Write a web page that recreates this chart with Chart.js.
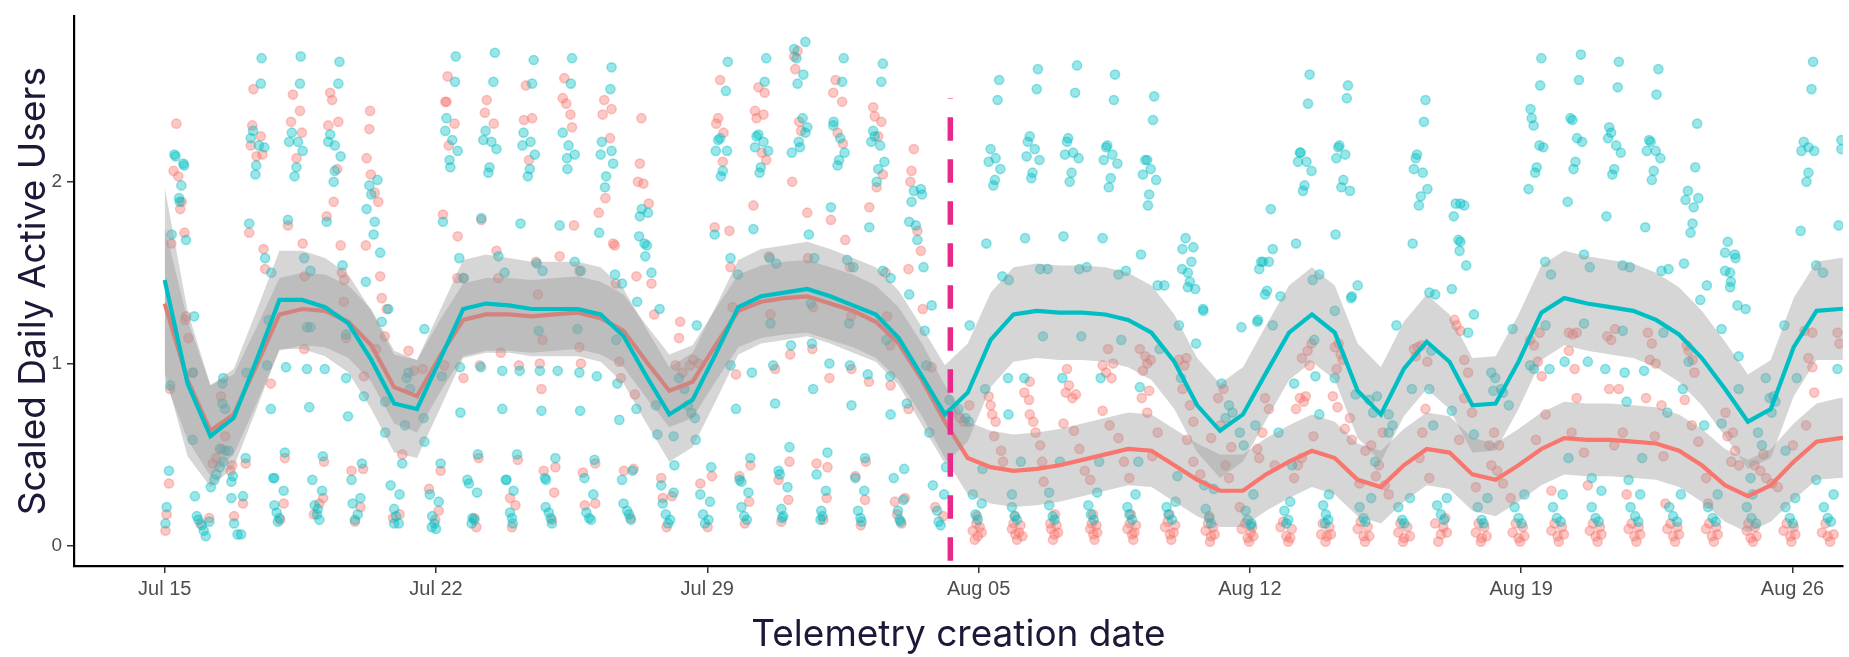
<!DOCTYPE html>
<html>
<head>
<meta charset="utf-8">
<script src="https://cdn.jsdelivr.net/npm/chart.js@4.4.1/dist/chart.umd.min.js"></script>
<style>
  html, body { margin: 0; padding: 0; background: #ffffff; }
  #wrap { width: 1849px; height: 657px; }
</style>
</head>
<body>
<div id="wrap"><canvas id="dau" width="1849" height="657"></canvas></div>
<script>
// ==========================
// DATA (days counted from Jul 15)
// ==========================
const tickDays = [0, 7, 14, 21, 28, 35, 42];
const tickLabels = ["Jul 15", "Jul 22", "Jul 29", "Aug 05", "Aug 12", "Aug 19", "Aug 26"];
const yTicks = [0, 1, 2];

// smoother evaluation grid
const fitDays = [
  0, 0.59, 1.18, 1.78, 2.37, 2.96, 3.55, 4.14, 4.74, 5.33,
  5.92, 6.51, 7.10, 7.70, 8.29, 8.88, 9.47, 10.06, 10.66, 11.25,
  11.84, 12.43, 13.02, 13.62, 14.21, 14.80, 15.39, 15.98, 16.58, 17.17,
  17.76, 18.35, 18.94, 19.54, 20.13, 20.72, 21.31, 21.90, 22.50, 23.09,
  23.68, 24.27, 24.86, 25.46, 26.05, 26.64, 27.23, 27.82, 28.42, 29.01,
  29.60, 30.19, 30.78, 31.38, 31.97, 32.56, 33.15, 33.74, 34.34, 34.93,
  35.52, 36.11, 36.70, 37.30, 37.89, 38.48, 39.07, 39.66, 40.26, 40.85,
  41.44, 42.03, 42.62, 43.22, 43.81
];
const tealFit = [
  1.46, 0.89, 0.60, 0.70, 1.02, 1.35, 1.35, 1.31, 1.22, 1.02,
  0.78, 0.75, 1.02, 1.30, 1.33, 1.32, 1.30, 1.30, 1.30, 1.27,
  1.15, 0.93, 0.72, 0.80, 1.05, 1.31, 1.37, 1.39, 1.41, 1.37,
  1.32, 1.27, 1.14, 0.93, 0.72, 0.84, 1.13, 1.27, 1.29, 1.28,
  1.28, 1.27, 1.24, 1.17, 1.01, 0.77, 0.63, 0.72, 0.95, 1.17,
  1.27, 1.17, 0.85, 0.72, 0.97, 1.12, 1.01, 0.77, 0.78, 1.01,
  1.28, 1.36, 1.33, 1.31, 1.29, 1.24, 1.16, 1.03, 0.86, 0.68,
  0.75, 1.09, 1.29, 1.30, 1.31
];
const tealHalf = [
  0.51, 0.40, 0.28, 0.27, 0.27, 0.27, 0.27, 0.27, 0.27, 0.27,
  0.27, 0.27, 0.27, 0.27, 0.27, 0.26, 0.26, 0.26, 0.26, 0.26,
  0.26, 0.26, 0.26, 0.26, 0.26, 0.26, 0.26, 0.26, 0.26, 0.26,
  0.26, 0.26, 0.26, 0.27, 0.27, 0.27, 0.26, 0.26, 0.26, 0.26,
  0.26, 0.26, 0.26, 0.26, 0.26, 0.26, 0.26, 0.26, 0.26, 0.26,
  0.26, 0.26, 0.26, 0.26, 0.26, 0.26, 0.26, 0.26, 0.26, 0.26,
  0.26, 0.26, 0.26, 0.26, 0.26, 0.26, 0.26, 0.26, 0.26, 0.26,
  0.27, 0.27, 0.27, 0.28, 0.28
];
const coralFit = [
  1.33, 0.91, 0.63, 0.72, 0.99, 1.27, 1.30, 1.29, 1.23, 1.10,
  0.87, 0.82, 1.04, 1.24, 1.27, 1.27, 1.26, 1.27, 1.28, 1.25,
  1.18, 1.01, 0.85, 0.90, 1.10, 1.29, 1.34, 1.36, 1.37, 1.33,
  1.29, 1.23, 1.11, 0.91, 0.68, 0.48, 0.43, 0.41, 0.42, 0.44,
  0.47, 0.50, 0.53, 0.52, 0.44, 0.36, 0.30, 0.30, 0.39, 0.46,
  0.52, 0.48, 0.36, 0.32, 0.44, 0.53, 0.51, 0.39, 0.36, 0.44,
  0.53, 0.59, 0.58, 0.58, 0.57, 0.56, 0.52, 0.44, 0.33, 0.27,
  0.33, 0.46, 0.57, 0.59, 0.60
];
const coralHalf = [
  0.42, 0.33, 0.25, 0.22, 0.21, 0.20, 0.20, 0.20, 0.20, 0.20,
  0.20, 0.20, 0.20, 0.20, 0.20, 0.20, 0.20, 0.20, 0.20, 0.20,
  0.20, 0.20, 0.20, 0.20, 0.20, 0.20, 0.20, 0.20, 0.20, 0.20,
  0.20, 0.20, 0.20, 0.20, 0.20, 0.20, 0.20, 0.20, 0.20, 0.20,
  0.20, 0.20, 0.20, 0.20, 0.20, 0.20, 0.20, 0.20, 0.20, 0.20,
  0.20, 0.20, 0.20, 0.20, 0.20, 0.20, 0.20, 0.20, 0.20, 0.20,
  0.20, 0.20, 0.20, 0.20, 0.20, 0.20, 0.20, 0.20, 0.20, 0.20,
  0.20, 0.21, 0.21, 0.22, 0.22
];

// launch marker
const launchDay = 20.27;
const launchFrom = -0.085;
const launchTo = 2.46;

// raw observations [day, value]
const tealPoints = [
  // Jul 15
  [0.25,2.15],[0.28,2.14],[0.48,2.10],[0.50,2.09],[0.43,1.98],[0.37,1.91],[0.39,1.89],[0.18,1.71],[0.55,1.68],
  [0.76,1.26],[0.73,0.95],[0.14,0.88],[0.72,0.58],[0.11,0.41],[0.05,0.21],[0.02,0.12],
  // Jul 16
  [0.78,0.27],[0.83,0.16],[0.87,0.14],[0.96,0.11],[1.01,0.08],[1.06,0.05],[1.15,0.13],[1.19,0.32],[1.28,0.36],
  [1.33,0.39],[1.42,0.43],[1.51,0.46],[1.56,0.52],[1.51,0.92],[1.49,0.89],[1.49,0.78],[1.56,0.75],[1.42,0.53],[1.65,0.52],
  // Jul 17
  [1.79,0.12],[1.88,0.06],[1.97,0.06],[2.02,0.27],[1.72,0.26],[1.72,0.35],[1.76,0.38],[2.09,0.48],[2.11,0.95],
  [2.68,1.24],[2.74,0.75],[2.64,0.99],
  [2.50,2.68],[2.48,2.54],[2.28,2.28],[2.22,2.24],[2.43,2.20],[2.57,2.19],[2.36,2.09],[2.34,2.04],[2.18,1.77],[2.59,1.58],[2.75,1.50],
  // Jul 18
  [2.80,0.37],[2.83,0.37],[2.83,0.22],[2.89,0.18],[2.96,0.15],[2.92,0.13],[3.07,0.30],[3.10,0.51],[3.13,0.98],
  [3.67,0.97],[3.73,0.76],[3.67,1.20],[3.76,1.20],
  [3.51,2.69],[3.49,2.54],[3.28,2.27],[3.21,2.22],[3.44,2.22],[3.56,2.17],[3.40,2.08],[3.35,2.03],[3.18,1.79],[3.60,1.58],[3.76,1.51],
  // Jul 19
  [3.81,0.36],[3.87,0.22],[3.93,0.17],[3.99,0.14],[3.95,0.20],[4.06,0.30],[4.08,0.49],[4.13,0.97],[4.68,0.92],[4.73,0.71],[4.68,1.16],
  [4.51,2.66],[4.48,2.54],[4.27,2.26],[4.39,2.20],[4.22,2.22],[4.54,2.14],[4.39,2.06],[4.36,2.00],[4.18,1.78],[4.59,1.54],
  // Jul 20
  [4.82,0.36],[5.09,0.45],[4.85,0.23],[4.98,0.17],[4.91,0.14],[5.05,0.26],[5.14,0.82],[5.69,0.62],[5.69,0.79],
  [5.49,2.01],[5.28,1.98],[5.33,1.93],[5.21,1.85],[5.42,1.78],[5.39,1.71],[5.56,1.61],[5.19,1.45],[5.77,1.30],[5.60,1.23],
  // Jul 21
  [5.83,0.33],[6.06,0.28],[5.92,0.20],[5.97,0.16],[6.04,0.12],[5.92,0.12],[6.13,0.45],[6.29,0.95],[6.24,0.92],
  [6.33,0.86],[6.20,0.66],[6.70,1.19],[6.68,0.70],[6.70,0.57],
  // Jul 22
  [6.84,0.28],[6.90,0.16],[6.96,0.12],[7.00,0.09],[6.89,0.10],[7.07,0.24],[7.12,0.45],[7.15,0.93],[7.62,0.98],[7.63,0.73],
  [7.51,2.69],[7.49,2.55],[7.27,2.35],[7.24,2.28],[7.42,2.23],[7.56,2.17],[7.35,2.12],[7.37,2.08],[7.18,1.78],[7.60,1.58],[7.71,1.47],
  // Jul 23
  [7.81,0.36],[7.85,0.34],[7.94,0.15],[7.99,0.14],[7.92,0.12],[8.06,0.29],[8.08,0.50],[8.16,0.98],[8.71,0.96],[8.71,0.75],
  [8.52,2.71],[8.48,2.55],[8.28,2.28],[8.22,2.23],[8.43,2.22],[8.56,2.18],[8.38,2.08],[8.35,2.05],[8.17,1.80],[8.61,1.59],[8.77,1.50],
  // Jul 24
  [8.80,0.36],[8.82,0.36],[9.00,0.30],[8.91,0.18],[8.96,0.15],[8.98,0.12],[9.09,0.50],[9.16,0.96],[9.65,1.18],[9.72,0.74],
  [9.52,2.67],[9.48,2.54],[9.26,2.27],[9.44,2.22],[9.23,2.20],[9.55,2.15],[9.42,2.07],[9.37,2.03],[9.18,1.77],[9.60,1.55],[9.75,1.51],
  // Jul 25
  [9.81,0.37],[9.84,0.36],[10.08,0.48],[9.91,0.18],[9.96,0.15],[9.99,0.12],[9.83,0.21],[9.68,0.96],[10.14,0.96],[10.65,1.19],[10.72,0.74],
  [10.51,2.68],[10.48,2.54],[10.27,2.27],[10.42,2.20],[10.58,2.15],[10.38,2.13],[10.39,2.07],[10.19,1.76],[10.58,1.56],[10.74,1.51],
  // Jul 26
  [10.83,0.37],[11.09,0.47],[10.88,0.18],[10.95,0.15],[11.00,0.14],[11.06,0.28],[10.70,0.95],[11.15,0.93],[11.65,1.13],[11.73,0.69],
  [11.53,2.63],[11.50,2.51],[11.28,2.22],[11.53,2.17],[11.25,2.15],[11.57,2.10],[11.39,2.03],[11.36,1.97],[11.21,1.72],[11.62,1.49],[11.80,1.44],
  // Jul 27
  [11.80,0.36],[12.07,0.41],[11.84,0.23],[11.93,0.19],[11.98,0.17],[12.03,0.14],[11.68,0.89],[12.17,0.75],[12.67,0.77],[12.71,0.61],[12.81,0.33],
  [12.31,1.85],[12.47,1.83],[12.26,1.81],[12.24,1.70],[12.38,1.66],[12.44,1.65],[12.40,1.59],[12.56,1.50],[12.77,1.30],[12.19,1.34],
  // Jul 28
  [12.85,0.23],[12.93,0.17],[12.99,0.12],[13.04,0.14],[13.15,0.44],[13.13,0.29],[13.27,0.92],[13.41,0.86],[13.13,0.60],
  [13.50,0.77],[13.59,0.73],[13.68,0.70],[13.70,0.58],[13.73,1.21],
  // Jul 29
  [13.82,0.28],[14.10,0.43],[13.89,0.17],[13.94,0.12],[14.03,0.14],[14.07,0.24],[14.60,0.99],[14.74,0.75],[15.15,0.95],
  [14.53,2.66],[14.48,2.50],[14.33,2.24],[14.28,2.23],[14.22,2.17],[14.51,2.17],[14.40,2.06],[14.35,2.03],[14.19,1.71],[14.60,1.58],[14.79,1.49],
  // Jul 30
  [14.83,0.36],[14.88,0.35],[15.06,0.29],[14.88,0.21],[14.95,0.16],[15.02,0.14],[15.11,0.48],[15.63,1.22],[15.70,0.99],[15.75,0.78],
  [15.52,2.68],[15.48,2.55],[15.32,2.26],[15.27,2.25],[15.45,2.22],[15.23,2.19],[15.57,2.17],[15.38,2.08],[15.35,2.05],[15.19,1.74],[15.61,1.58],[15.78,1.55],
  // Jul 31
  [15.84,0.41],[15.87,0.39],[16.07,0.32],[15.91,0.20],[15.96,0.16],[15.93,0.15],[16.12,0.54],[16.16,1.10],[16.67,1.33],[16.70,1.11],[16.73,0.86],
  [16.53,2.77],[16.24,2.73],[16.30,2.68],[16.48,2.59],[16.33,2.54],[16.46,2.35],[16.58,2.30],[16.53,2.27],[16.36,2.22],[16.39,2.19],[16.18,2.16],[16.62,1.71],[16.76,1.58],
  // Aug 01
  [16.82,0.39],[17.10,0.51],[17.06,0.30],[16.94,0.19],[16.97,0.16],[16.92,0.14],[17.15,1.00],[17.66,1.22],[17.68,0.99],[17.72,0.77],
  [17.52,2.68],[17.48,2.55],[17.26,2.33],[17.25,2.31],[17.43,2.24],[17.54,2.16],[17.40,2.12],[17.36,2.09],[17.19,1.86],[17.61,1.57],[17.77,1.53],
  // Aug 02
  [17.82,0.37],[18.07,0.48],[18.05,0.30],[17.89,0.19],[17.95,0.15],[17.98,0.13],[18.14,0.94],[18.73,1.47],[18.62,1.13],[18.72,0.93],[18.73,0.72],
  [18.53,2.65],[18.49,2.55],[18.28,2.28],[18.32,2.25],[18.23,2.22],[18.46,2.20],[18.57,2.11],[18.41,2.07],[18.37,2.00],[18.18,1.75],[18.53,1.51],
  // Aug 03
  [18.81,0.37],[19.08,0.42],[18.92,0.19],[18.96,0.14],[18.99,0.13],[19.06,0.25],[19.15,0.78],[19.79,1.32],[19.61,1.18],[19.65,0.99],[19.73,0.62],
  [19.33,1.95],[19.51,1.96],[19.54,1.93],[19.27,1.89],[19.21,1.78],[19.38,1.76],[19.42,1.68],[19.58,1.53],[19.21,1.38],
  // Aug 04
  [19.82,0.33],[19.93,0.19],[19.97,0.13],[20.02,0.11],[20.11,0.28],[20.16,0.43],[20.25,0.80],[20.48,0.75],[20.66,0.70],[20.75,0.68],
  // Aug 05
  [20.85,0.28],[20.92,0.17],[20.98,0.14],[21.08,0.23],[21.17,0.86],[21.10,0.42],[20.77,1.21],
  [21.53,2.56],[21.49,2.45],[21.31,2.18],[21.26,2.11],[21.44,2.13],[21.38,1.98],[21.56,2.07],[21.42,2.01],[21.20,1.66],[21.61,1.48],[21.78,1.46],
  // Aug 06
  [21.86,0.28],[21.86,0.21],[21.93,0.16],[21.99,0.14],[22.09,0.46],[22.18,0.92],[21.76,0.92],[21.77,0.72],[22.66,1.15],
  [22.53,2.62],[22.50,2.51],[22.32,2.25],[22.27,2.22],[22.45,2.18],[22.24,2.14],[22.57,2.12],[22.39,2.05],[22.36,2.02],[22.20,1.69],[22.59,1.52],[22.78,1.52],
  // Aug 07
  [22.82,0.29],[22.82,0.22],[22.91,0.16],[22.96,0.14],[23.10,0.46],[23.16,0.92],[23.65,1.15],
  [23.54,2.64],[23.49,2.49],[23.31,2.24],[23.28,2.22],[23.44,2.16],[23.23,2.15],[23.58,2.13],[23.40,2.05],[23.35,2.00],[23.19,1.70],[23.60,1.52],[23.79,1.53],
  // Aug 08
  [24.06,0.29],[23.83,0.22],[23.90,0.17],[23.97,0.14],[24.11,0.46],[24.15,0.92],[24.68,1.13],
  [24.52,2.59],[24.49,2.45],[24.32,2.20],[24.29,2.19],[24.45,2.15],[24.23,2.12],[24.58,2.10],[24.41,2.02],[24.36,1.97],[24.20,1.69],[24.61,1.49],[24.80,1.51],
  // Aug 09
  [25.05,0.28],[24.84,0.21],[24.89,0.17],[24.96,0.14],[25.12,0.46],[25.16,0.87],[25.67,1.08],
  [25.53,2.47],[25.50,2.34],[25.30,2.12],[25.35,2.12],[25.44,2.07],[25.24,2.04],[25.58,2.01],[25.40,1.93],[25.37,1.87],[25.19,1.60],[25.62,1.43],[25.79,1.43],
  // Aug 10
  [25.85,0.21],[25.90,0.17],[25.99,0.14],[26.08,0.24],[26.13,0.38],[26.22,0.92],[26.17,1.21],[26.61,1.11],
  [26.34,1.69],[26.26,1.63],[26.54,1.64],[26.49,1.56],[26.25,1.52],[26.40,1.50],[26.45,1.45],[26.40,1.42],[26.59,1.41],[26.79,1.30],
  // Aug 11
  [26.86,0.20],[26.95,0.15],[27.00,0.12],[27.07,0.31],[26.82,0.33],[27.27,0.89],[27.46,0.77],[27.55,0.73],[27.37,0.70],[26.80,1.29],[27.78,1.20],
  // Aug 12
  [27.89,0.19],[27.94,0.14],[28.02,0.11],[28.04,0.12],[28.09,0.28],[27.74,0.62],[27.84,0.55],[28.14,0.66],[28.19,1.23],[28.59,1.21],[28.74,0.62],
  [28.54,1.85],[28.59,1.63],[28.29,1.56],[28.34,1.56],[28.49,1.56],[28.24,1.52],[28.44,1.40],[28.39,1.38],[28.79,1.37],[28.21,1.24],
  // Aug 13
  [28.89,0.19],[28.99,0.14],[28.94,0.12],[29.04,0.24],[29.09,0.44],[29.14,0.89],[29.69,0.93],[29.66,1.13],[29.79,0.72],
  [29.54,2.59],[29.50,2.43],[29.31,2.16],[29.29,2.16],[29.24,2.11],[29.46,2.11],[29.59,2.06],[29.41,1.98],[29.37,1.95],[29.19,1.66],[29.62,1.46],[29.79,1.49],
  // Aug 14
  [29.89,0.22],[29.96,0.17],[30.02,0.14],[29.94,0.12],[30.04,0.28],[30.19,0.92],[30.19,1.29],[30.63,1.37],
  [30.53,2.53],[30.50,2.46],[30.31,2.20],[30.28,2.19],[30.46,2.15],[30.23,2.13],[30.41,2.01],[30.36,1.97],[30.58,1.95],[30.21,1.71],[30.78,1.43],[30.61,1.36],
  // Aug 15
  [30.83,0.21],[30.93,0.15],[30.98,0.13],[31.13,0.26],[30.73,0.83],[31.08,0.80],[31.18,0.73],[31.28,0.82],[31.23,0.46],
  [31.58,0.72],[31.68,0.66],[31.58,0.62],[31.78,1.21],
  // Aug 16
  [31.83,0.21],[31.93,0.14],[31.98,0.12],[32.13,0.26],[32.18,0.86],[32.63,0.86],[32.68,1.07],[32.73,0.66],
  [32.53,2.45],[32.49,2.33],[32.31,2.15],[32.28,2.13],[32.23,2.07],[32.46,2.05],[32.58,1.96],[32.41,1.92],[32.36,1.87],[32.20,1.66],[32.63,1.39],[32.78,1.38],[33.21,1.41],
  // Aug 17
  [32.83,0.22],[32.93,0.17],[33.01,0.14],[33.08,0.26],[33.21,0.74],[33.63,1.17],[33.78,1.27],[33.78,0.61],
  [33.31,1.88],[33.53,1.87],[33.43,1.88],[33.26,1.81],[33.38,1.68],[33.43,1.67],[33.41,1.62],[33.58,1.54],
  // Aug 18
  [33.88,0.21],[33.98,0.14],[34.03,0.12],[34.13,0.26],[34.23,0.95],[34.33,0.92],[34.48,0.86],[34.53,0.84],[34.28,0.85],[34.68,0.77],[34.78,1.19],
  // Aug 19
  [34.83,0.21],[34.93,0.15],[35.01,0.12],[35.08,0.28],[35.23,0.99],[35.33,0.97],[35.63,1.21],[35.73,0.97],
  [35.52,2.68],[35.49,2.53],[35.24,2.40],[35.27,2.35],[35.32,2.31],[35.47,2.20],[35.57,2.19],[35.40,2.08],[35.36,2.05],[35.19,1.96],[35.62,1.56],[35.77,1.49],
  // Aug 20
  [35.82,0.21],[35.92,0.15],[36.02,0.13],[36.07,0.28],[36.12,1.01],[36.22,0.48],[36.62,1.22],[36.72,1.01],
  [36.54,2.70],[36.49,2.56],[36.27,2.35],[36.32,2.34],[36.44,2.24],[36.57,2.22],[36.40,2.11],[36.35,2.07],[36.20,1.89],[36.62,1.60],[36.77,1.53],
  // Aug 21
  [36.82,0.21],[36.92,0.15],[37.00,0.13],[37.07,0.30],[36.82,0.37],[37.17,0.97],[37.67,0.95],[37.62,1.18],[37.72,0.79],[37.77,0.36],
  [37.52,2.66],[37.49,2.52],[37.27,2.30],[37.32,2.27],[37.24,2.24],[37.45,2.20],[37.57,2.16],[37.40,2.07],[37.35,2.04],[37.20,1.81],[37.62,1.54],[37.80,1.53],
  // Aug 22
  [37.82,0.21],[37.94,0.16],[38.02,0.13],[38.07,0.28],[38.17,0.96],[38.12,0.48],[38.67,1.17],[38.77,0.73],
  [38.54,2.62],[38.49,2.48],[38.30,2.23],[38.34,2.22],[38.24,2.17],[38.47,2.17],[38.59,2.13],[38.42,2.06],[38.37,2.01],[38.20,1.75],[38.62,1.51],[38.80,1.52],
  // Aug 23
  [38.82,0.21],[38.92,0.16],[39.02,0.13],[39.12,0.28],[39.17,0.86],[39.32,1.01],[39.72,0.66],
  [39.54,2.32],[39.49,2.08],[39.30,1.95],[39.24,1.90],[39.57,1.91],[39.45,1.86],[39.42,1.77],[39.37,1.72],[39.20,1.55],[39.62,1.35],[39.79,1.43],
  // Aug 24
  [39.82,0.21],[39.94,0.15],[40.02,0.13],[40.07,0.28],[40.17,0.67],[40.61,0.86],[40.17,1.19],[40.61,1.04],
  [40.33,1.67],[40.26,1.61],[40.51,1.60],[40.53,1.58],[40.26,1.51],[40.39,1.50],[40.41,1.45],[40.39,1.42],[40.58,1.32],[40.79,1.30],
  // Aug 25
  [40.82,0.21],[40.94,0.15],[41.06,0.12],[40.97,0.28],[40.92,0.37],[41.11,0.62],[41.21,0.55],[41.31,0.92],[41.41,0.81],
  [41.51,0.82],[41.56,0.79],[41.46,0.73],[41.79,1.21],
  // Aug 26
  [41.82,0.21],[41.93,0.15],[42.01,0.12],[42.07,0.26],[41.82,0.52],[42.11,0.92],[42.61,0.36],
  [42.53,2.66],[42.49,2.51],[42.29,2.22],[42.23,2.17],[42.56,2.17],[42.41,2.19],[42.41,2.05],[42.36,2.00],[42.21,1.73],[42.61,1.54],[42.79,1.50],
  // Aug 27
  [42.81,0.21],[42.91,0.15],[42.99,0.13],[43.06,0.28],[43.16,0.97],[43.26,2.23],[43.26,2.18],[43.19,1.76]
];

const coralPoints = [
  // Jul 15
  [0.30,2.32],[0.23,2.06],[0.35,2.03],[0.44,1.89],[0.40,1.85],[0.51,1.72],[0.17,1.66],[0.55,1.26],[0.53,1.24],
  [0.61,1.14],[0.72,0.95],[0.14,0.86],[0.11,0.34],[0.05,0.17],[0.02,0.08],
  // Jul 16
  [0.92,0.12],[1.15,0.15],[1.24,0.45],[1.33,0.48],[1.47,0.53],[1.56,0.60],[1.45,0.82],
  // Jul 17
  [1.79,0.16],[2.02,0.23],[1.70,0.41],[1.74,0.44],[2.09,0.45],[2.74,0.89],[2.59,1.52],
  [2.29,2.51],[2.26,2.31],[2.22,2.20],[2.37,2.14],[2.48,2.25],[2.52,2.15],[2.18,1.72],[2.55,1.63],
  // Jul 18
  [3.07,0.23],[2.98,0.14],[3.10,0.48],[3.60,1.08],[3.61,1.48],
  [3.31,2.48],[3.49,2.39],[3.26,2.33],[3.54,2.27],[3.40,2.13],[3.18,1.76],[3.56,1.66],
  // Jul 19
  [3.99,0.23],[3.85,0.17],[4.09,0.26],[4.11,0.46],[4.62,1.34],[4.68,1.14],[4.57,1.50],
  [4.27,2.49],[4.32,2.45],[4.48,2.33],[4.22,2.31],[4.45,2.07],[4.36,1.89],[4.18,1.81],[4.54,1.65],[4.63,1.46],
  // Jul 20
  [4.82,0.41],[5.12,0.42],[4.91,0.13],[5.05,0.21],[5.14,0.93],
  [5.30,2.39],[5.28,2.29],[5.21,2.13],[5.32,2.04],[5.42,1.94],[5.51,1.89],[5.19,1.65],[5.56,1.48],[5.60,1.36],
  [5.73,1.30],[5.68,1.15],[5.46,1.08],
  // Jul 21
  [6.06,0.17],[5.89,0.15],[6.13,0.50],[6.29,1.07],[6.43,0.96],[6.66,0.97],
  // Jul 22
  [6.82,0.31],[6.98,0.14],[7.07,0.19],[7.12,0.41],[7.21,0.99],[7.55,1.47],[7.71,0.92],
  [7.30,2.58],[7.24,2.44],[7.27,2.44],[7.48,2.32],[7.33,2.20],[7.18,1.82],[7.56,1.70],[7.71,1.47],
  // Jul 23
  [7.99,0.15],[8.04,0.10],[8.10,0.48],[8.13,0.99],[8.67,1.06],
  [8.31,2.45],[8.26,2.38],[8.49,2.32],[8.17,1.79],[8.56,1.62],[8.61,1.47],
  // Jul 24
  [8.91,0.26],[8.96,0.10],[9.05,0.22],[9.11,0.47],[9.14,0.99],[9.63,1.38],[9.75,1.13],[9.72,0.86],
  [9.32,2.53],[9.27,2.34],[9.48,2.35],[9.40,2.12],[9.58,1.56],
  // Jul 25
  [9.78,0.41],[10.08,0.43],[9.99,0.14],[10.05,0.29],[9.68,1.00],[10.70,1.51],[10.70,1.09],
  [10.31,2.57],[10.27,2.46],[10.36,2.43],[10.47,2.37],[10.51,2.30],[10.56,1.76],[10.19,1.59],
  // Jul 26
  [10.79,0.40],[11.11,0.45],[10.84,0.22],[11.11,0.23],[10.74,1.00],[11.61,1.65],[11.73,1.01],[11.64,1.44],
  [11.34,2.45],[11.53,2.40],[11.30,2.37],[11.49,2.24],[11.37,1.91],[11.20,1.83],[11.57,1.66],
  // Jul 27
  [11.85,0.41],[12.10,0.42],[12.02,0.15],[11.77,0.92],[12.13,0.83],[12.17,1.48],[12.56,1.44],[12.63,1.27],
  [12.30,2.35],[12.26,2.10],[12.21,2.00],[12.35,1.99],[12.49,1.88],
  // Jul 28
  [12.81,0.37],[12.95,0.10],[12.85,0.26],[13.09,0.27],[13.18,0.99],[13.36,0.95],[13.30,1.23],[13.27,1.14],
  [13.55,0.99],[13.64,1.02],[13.78,1.00],
  // Jul 29
  [13.82,0.34],[14.12,0.38],[14.01,0.10],[14.65,1.31],[14.74,0.94],
  [14.33,2.56],[14.28,2.35],[14.23,2.32],[14.42,2.27],[14.40,2.11],[14.19,1.75],[14.57,1.73],[14.60,1.53],
  // Jul 30
  [14.83,0.38],[15.08,0.24],[14.97,0.12],[15.11,0.44],[15.63,1.27],[15.75,0.97],
  [15.32,2.52],[15.48,2.49],[15.23,2.39],[15.45,2.37],[15.27,2.35],[15.41,2.16],[15.52,2.12],[15.19,1.87],[15.59,1.59],
  // Jul 31
  [15.84,0.36],[16.09,0.25],[15.91,0.13],[16.12,0.46],[16.14,1.05],[16.73,1.31],[16.71,1.08],
  [16.33,2.72],[16.24,2.69],[16.27,2.62],[16.37,2.33],[16.42,2.28],[16.19,2.00],[16.58,1.83],[16.60,1.58],
  // Aug 01
  [16.82,0.45],[17.10,0.43],[17.08,0.26],[16.99,0.14],[17.15,0.92],[17.68,1.53],[17.71,1.26],[17.72,0.97],
  [17.31,2.56],[17.25,2.49],[17.48,2.44],[17.36,2.27],[17.50,2.21],[17.19,1.79],[17.56,1.68],
  // Aug 02
  [17.82,0.38],[18.09,0.46],[18.07,0.25],[17.96,0.11],[18.17,0.90],[18.64,1.26],[18.72,1.10],[18.73,0.88],
  [18.28,2.41],[18.32,2.36],[18.49,2.33],[18.41,2.25],[18.53,2.04],[18.37,1.97],[18.18,1.86],[18.60,1.50],
  // Aug 03
  [18.84,0.24],[19.10,0.26],[18.90,0.17],[19.01,0.12],[19.19,0.75],[19.79,0.98],
  [19.33,2.18],[19.27,2.06],[19.24,2.00],[19.42,1.73],[19.51,1.62],[19.19,1.52],[19.56,1.30],
  // Aug 04
  [19.88,0.21],[20.09,0.16],[20.30,0.73],[20.52,0.70],[20.62,0.68],[20.76,0.77],
  // Aug 05
  [20.85,0.08],[20.98,0.05],[21.08,0.07],[20.94,0.12],[20.90,0.03],[21.03,0.10],[20.96,0.16],
  [21.26,0.82],[21.31,0.77],[21.35,0.72],[21.44,0.68],[21.58,0.52],[21.63,0.46],[21.40,0.60],
  // Aug 06
  [21.86,0.09],[21.95,0.06],[22.04,0.07],[22.13,0.05],[21.90,0.12],[21.99,0.03],[22.08,0.11],[21.94,0.16],
  [22.18,0.84],[22.30,0.80],[22.32,0.72],[22.41,0.68],[22.32,0.90],[22.59,0.55],[22.64,0.46],[22.68,0.35],[22.47,0.62],
  // Aug 07
  [22.87,0.09],[22.96,0.06],[23.05,0.07],[22.85,0.12],[22.92,0.03],[23.01,0.11],[22.97,0.17],
  [23.28,0.97],[23.33,0.88],[23.25,0.84],[23.42,0.81],[23.51,0.83],[23.19,0.67],[23.60,0.53],[23.74,0.41],[23.88,0.36],[23.46,0.63],
  // Aug 08
  [23.88,0.09],[23.96,0.06],[24.06,0.07],[23.92,0.12],[23.99,0.03],[24.04,0.11],[23.95,0.17],
  [24.20,0.99],[24.29,0.95],[24.34,1.08],[24.43,0.92],[24.47,1.00],[24.20,0.74],[24.61,0.59],[24.75,0.46],[24.89,0.37],[24.38,0.66],
  // Aug 09
  [24.84,0.09],[24.96,0.06],[25.02,0.07],[24.90,0.12],[24.99,0.03],[25.06,0.11],[24.93,0.17],
  [25.16,1.08],[25.30,1.04],[25.44,1.02],[25.35,1.00],[25.24,0.96],[25.21,0.81],[25.40,0.85],[25.35,0.73],[25.62,0.62],[25.48,0.49],
  // Aug 10
  [25.81,0.10],[25.94,0.06],[26.03,0.07],[25.88,0.13],[25.97,0.03],[26.07,0.11],[25.92,0.17],
  [26.17,1.02],[26.36,1.03],[26.31,0.99],[26.26,0.86],[26.45,0.77],[26.54,0.68],[26.54,0.46],[26.72,0.39],[26.38,0.58],
  // Aug 11
  [26.86,0.08],[27.00,0.05],[27.09,0.06],[26.92,0.12],[26.97,0.02],[27.05,0.10],[26.95,0.16],
  [27.32,0.86],[27.18,0.81],[27.00,0.59],[27.37,0.44],[27.46,0.37],[27.24,0.66],[27.52,0.54],
  // Aug 12
  [27.79,0.09],[27.94,0.04],[28.09,0.05],[28.02,0.07],[27.74,0.21],[27.88,0.12],[27.98,0.02],[28.06,0.10],
  [28.19,0.53],[28.24,0.48],[28.39,0.81],[28.49,0.75],[28.64,0.44],[28.32,0.62],
  // Aug 13
  [28.79,0.10],[28.94,0.05],[29.04,0.04],[28.86,0.13],[28.99,0.02],[29.08,0.09],
  [29.14,0.37],[29.24,0.44],[29.34,0.48],[29.29,0.81],[29.39,0.79],[29.19,0.75],
  [29.59,1.11],[29.49,1.07],[29.34,1.03],[29.54,0.99],[29.44,0.82],[29.64,0.60],
  // Aug 14
  [29.84,0.06],[29.99,0.05],[30.09,0.06],[29.88,0.12],[29.95,0.02],[30.05,0.10],
  [30.19,1.09],[30.29,1.11],[30.34,1.05],[30.39,1.02],[30.24,0.97],[30.14,0.82],[30.26,0.76],[30.58,0.70],[30.63,0.58],[30.45,0.64],
  // Aug 15
  [30.78,0.09],[30.93,0.05],[31.08,0.05],[30.86,0.13],[30.97,0.02],[31.04,0.10],
  [30.83,0.34],[30.98,0.52],[31.13,0.55],[31.43,0.62],[31.33,0.44],[31.48,0.33],[31.58,0.28],[31.25,0.38],
  // Aug 16
  [31.83,0.07],[31.98,0.04],[32.13,0.05],[31.88,0.12],[31.95,0.02],[32.06,0.10],
  [32.23,1.08],[32.33,1.09],[32.43,1.10],[32.28,1.04],[32.53,0.75],[32.58,1.01],[32.38,0.48],[32.63,0.37],[32.45,0.62],
  // Aug 17
  [32.78,0.12],[32.93,0.06],[33.08,0.07],[32.86,0.02],[32.99,0.10],[33.04,0.15],
  [33.28,1.24],[33.33,1.21],[33.43,1.18],[33.53,1.02],[33.63,0.95],[33.53,0.81],[33.73,0.73],[33.40,0.58],
  // Aug 18
  [33.83,0.07],[33.98,0.04],[34.11,0.05],[33.90,0.12],[33.96,0.02],[34.05,0.10],
  [33.83,0.32],[34.23,0.44],[34.38,0.41],[34.53,0.34],[34.18,0.55],[34.43,0.55],[34.30,0.62],
  // Aug 19
  [34.78,0.07],[34.93,0.04],[35.08,0.05],[34.86,0.12],[34.97,0.02],[35.04,0.10],
  [34.73,0.26],[35.23,1.13],[35.33,1.10],[35.48,1.17],[35.43,1.01],[35.53,0.93],[35.63,0.72],[35.38,0.58],
  // Aug 20
  [35.78,0.08],[35.94,0.05],[36.10,0.06],[35.86,0.12],[35.97,0.02],[36.05,0.10],
  [35.78,0.30],[36.23,1.17],[36.33,1.16],[36.43,1.17],[36.23,1.07],[36.38,0.97],[36.43,0.81],[36.62,0.51],[36.30,0.62],
  // Aug 21
  [36.77,0.08],[36.92,0.05],[37.07,0.06],[36.85,0.12],[36.97,0.02],[37.03,0.10],
  [36.72,0.33],[37.22,1.15],[37.32,1.13],[37.42,1.19],[37.52,0.86],[37.27,0.86],[37.62,0.62],[37.40,0.55],
  // Aug 22
  [37.77,0.09],[37.92,0.05],[38.07,0.06],[37.85,0.12],[37.97,0.02],[38.03,0.10],
  [37.72,0.28],[38.27,1.17],[38.37,1.11],[38.32,1.02],[38.47,1.00],[38.22,0.81],[38.62,0.77],[38.67,0.49],[38.45,0.60],
  // Aug 23
  [38.77,0.09],[38.92,0.05],[39.07,0.06],[38.85,0.12],[38.97,0.02],[39.03,0.10],
  [38.72,0.23],[39.27,1.10],[39.32,1.07],[39.42,1.02],[39.47,0.95],[39.22,0.80],[39.57,0.57],[39.77,0.37],[39.40,0.66],
  // Aug 24
  [39.77,0.09],[39.92,0.05],[40.07,0.06],[39.85,0.12],[39.97,0.02],[40.03,0.10],
  [39.82,0.23],[40.27,0.73],[40.46,0.62],[40.42,0.46],[40.62,0.44],[40.32,0.60],[40.52,0.52],
  // Aug 25
  [40.82,0.08],[40.92,0.04],[41.07,0.05],[40.86,0.12],[40.98,0.02],[41.03,0.10],
  [41.02,0.44],[41.17,0.41],[41.32,0.37],[41.47,0.34],[41.62,0.32],[41.25,0.50],
  // Aug 26
  [41.77,0.08],[41.94,0.05],[42.07,0.06],[41.85,0.12],[41.97,0.02],[42.03,0.10],
  [42.01,0.55],[42.31,1.18],[42.51,1.17],[42.41,1.03],[42.51,0.98],[42.56,0.84],[42.35,0.66],
  // Aug 27
  [42.76,0.07],[42.91,0.05],[43.06,0.06],[42.85,0.12],[42.97,0.02],[43.16,1.17],[43.21,1.11]
];

// ==========================
// STYLE
// ==========================
const TEAL = "#00BFC4";
const CORAL = "#F8766D";
const TEAL_PT = "rgba(0, 191, 196, 0.4)";
const CORAL_PT = "rgba(248, 118, 109, 0.4)";
const BAND = "rgba(153, 153, 153, 0.4)";
const LAUNCH = "#E7298A";
const TITLE_COLOR = "#1d1838";
const TICK_COLOR = "#4d4d4d";

// ==========================
// HELPERS
// ==========================
function toXY(pairs) {
  return pairs.map((p) => ({ x: p[0], y: p[1] }));
}

function curve(values) {
  return fitDays.map((d, i) => ({ x: d, y: values[i] }));
}

function bandEdge(values, half, sign) {
  return fitDays.map((d, i) => ({ x: d, y: values[i] + sign * half[i] }));
}

function pointSet(label, pairs, color, order) {
  return {
    type: "scatter",
    label: label,
    data: toXY(pairs),
    backgroundColor: color,
    borderColor: color,
    borderWidth: 1.5,
    pointRadius: 4.6,
    pointHoverRadius: 4.6,
    order: order,
  };
}

function bandSet(values, half, order) {
  return [
    {
      type: "line",
      data: bandEdge(values, half, -1),
      borderWidth: 0,
      pointRadius: 0,
      fill: false,
      order: order,
    },
    {
      type: "line",
      data: bandEdge(values, half, 1),
      borderWidth: 0,
      pointRadius: 0,
      backgroundColor: BAND,
      fill: "-1",
      order: order,
    },
  ];
}

function lineSet(values, color, order) {
  return {
    type: "line",
    data: curve(values),
    borderColor: color,
    borderWidth: 4.2,
    pointRadius: 0,
    fill: false,
    borderJoinStyle: "miter",
    order: order,
  };
}

// ==========================
// CHART
// ==========================
Chart.defaults.font.family = "'Liberation Sans', Arial, sans-serif";

const datasets = [
  pointSet("coral points", coralPoints, CORAL_PT, 11),
  pointSet("teal points", tealPoints, TEAL_PT, 10),
  ...bandSet(coralFit, coralHalf, 6),
  lineSet(coralFit, CORAL, 5),
  ...bandSet(tealFit, tealHalf, 4),
  lineSet(tealFit, TEAL, 3),
  {
    type: "line",
    data: [
      { x: launchDay, y: launchFrom },
      { x: launchDay, y: launchTo },
    ],
    borderColor: LAUNCH,
    borderWidth: 5.5,
    borderDash: [23.5, 18.5],
    borderCapStyle: "butt",
    pointRadius: 0,
    fill: false,
    order: 1,
  },
];

new Chart(document.getElementById("dau"), {
  type: "scatter",
  data: { datasets: datasets },
  options: {
    responsive: false,
    animation: false,
    devicePixelRatio: 1,
    events: [],
    layout: { padding: { top: 9, right: 0, left: 0, bottom: 0 } },
    plugins: {
      legend: { display: false },
      tooltip: { enabled: false },
    },
    scales: {
      x: {
        type: "linear",
        min: -2.34,
        max: 43.3,
        afterBuildTicks: (scale) => {
          scale.ticks = tickDays.map((v) => ({ value: v }));
        },
        afterFit: (scale) => {
          scale.height = 91;
        },
        ticks: {
          autoSkip: false,
          maxRotation: 0,
          padding: 4,
          color: TICK_COLOR,
          font: { size: 20 },
          callback: (value) => tickLabels[tickDays.indexOf(value)],
        },
        grid: {
          drawOnChartArea: false,
          drawTicks: true,
          tickLength: 7,
          color: "#333333",
          lineWidth: 1.5,
        },
        border: { display: true, color: "#000000", width: 2.2 },
        title: {
          display: true,
          text: "Telemetry creation date",
          color: TITLE_COLOR,
          font: { family: "Inter", size: 37 },
          padding: { top: 0, bottom: 0 },
        },
      },
      y: {
        type: "linear",
        min: -0.114,
        max: 2.91,
        afterBuildTicks: (scale) => {
          scale.ticks = yTicks.map((v) => ({ value: v }));
        },
        afterFit: (scale) => {
          scale.width = 74;
        },
        ticks: {
          padding: 5,
          color: TICK_COLOR,
          font: { size: 19 },
        },
        grid: {
          drawOnChartArea: false,
          drawTicks: true,
          tickLength: 7,
          color: "#333333",
          lineWidth: 1.5,
        },
        border: { display: true, color: "#000000", width: 2.2 },
        title: {
          display: true,
          text: "Scaled Daily Active Users",
          color: TITLE_COLOR,
          font: { family: "Inter", size: 37 },
          padding: { top: 12, bottom: 0 },
        },
      },
    },
  },
});
</script>
</body>
</html>
